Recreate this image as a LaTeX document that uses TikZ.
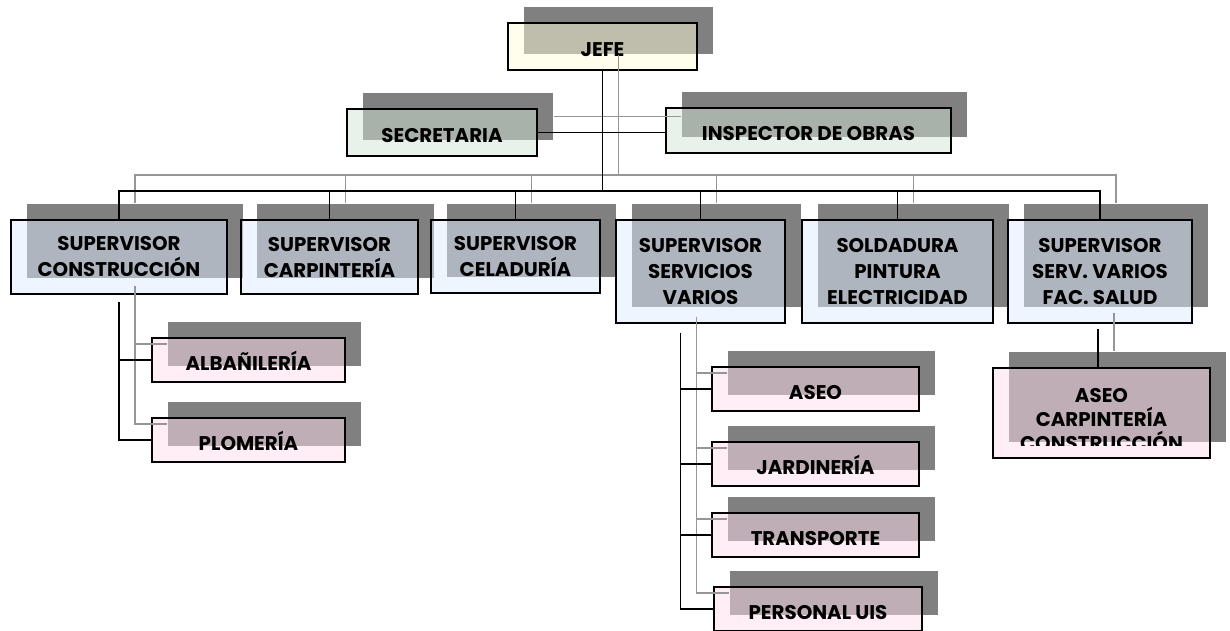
\documentclass[tikz,border=0pt]{standalone}
\usepackage{fontspec}
\setmainfont{Poppins}
\usetikzlibrary{calc}

\definecolor{shade}{RGB}{128,128,128}
\definecolor{wire}{RGB}{150,150,150}
\definecolor{creamfill}{RGB}{255,251,215}
\definecolor{greenfill}{RGB}{209,229,213}
\definecolor{bluefill}{RGB}{221,235,255}
\definecolor{pinkfill}{RGB}{255,221,235}

\tikzset{
  orgbox/.style={draw=black, line width=1.8pt, fill opacity=0.5, draw opacity=1,
    text opacity=1, inner sep=0pt, align=center,
    font=\fontsize{19.8}{26}\selectfont\bfseries,
    preaction={draw=none, fill=shade, fill opacity=1,
      transform canvas={xshift=16pt,yshift=16pt}}},
  oneline/.style={text height=20pt, text depth=0pt},
  topbox/.style={orgbox, oneline, fill=creamfill},
  staffbox/.style={orgbox, oneline, fill=greenfill},
  supbox/.style={orgbox, fill=bluefill},
  unitbox/.style={orgbox, fill=pinkfill},
  labeltext/.style={inner sep=0pt, align=center,
    font=\fontsize{19.8}{24}\selectfont\bfseries},
  blackwire/.style={color=black, line width=1.4pt},
  greywire/.style={color=wire, line width=1.4pt,
    transform canvas={xshift=16pt,yshift=16pt}}
}

% connector tree, drawn once as a grey shadow and once in black
\newcommand\orgwires{%
  \coordinate (bus) at (0,191);
  \draw (jefe.south) -- (jefe.south |- bus);
  \draw (sec.east) -- (sec.east -| insp.west);
  \draw (s1.north) -- (s1.north |- bus) -- (s6.north |- bus) -- (s6.north);
  \foreach \n in {s2,s3,s4,s5} \draw (\n.north) -- (\n.north |- bus);
  \coordinate (v1) at ($(s1.south)+(0,7)$);
  \draw (v1) |- (plo.west);
  \draw (v1 |- alb.west) -- (alb.west);
  \coordinate (v4) at ($(s4.south)+(-20,9)$);
  \draw (v4) |- (pers.west);
  \foreach \n in {aseo,jard,trans} \draw (v4 |- \n.west) -- (\n.west);
  \coordinate (v6) at ($(s6.south)+(-2,5)$);
  \draw (v6) -- (v6 |- acc.north);
}

\begin{document}
\begin{tikzpicture}[x=1pt,y=-1pt]
\useasboundingbox (0,0) rectangle (1230,630);

\node[topbox, minimum width=189pt, minimum height=47pt] (jefe) at (602.5,46.5) {JEFE};

\node[staffbox, minimum width=190pt, minimum height=47pt] (sec) at (442,132.5) {SECRETARIA};
\node[staffbox, minimum width=285pt, minimum height=45pt] (insp) at (808.5,130.5) {INSPECTOR DE OBRAS};

\node[supbox, minimum width=216pt, minimum height=74pt] (s1) at (119,257) {SUPERVISOR\\CONSTRUCCIÓN};
\node[supbox, minimum width=177pt, minimum height=74pt] (s2) at (329.5,257) {SUPERVISOR\\CARPINTERÍA};
\node[supbox, minimum width=169pt, minimum height=73pt] (s3) at (515.5,256.5) {SUPERVISOR\\CELADURÍA};
\node[supbox, minimum width=169pt, minimum height=103pt] (s4) at (700.5,271.5) {SUPERVISOR\\SERVICIOS\\VARIOS};
\node[supbox, minimum width=191pt, minimum height=103pt] (s5) at (897.5,271.5) {SOLDADURA\\PINTURA\\ELECTRICIDAD};
\node[supbox, minimum width=184pt, minimum height=103pt] (s6) at (1100,271.5) {SUPERVISOR\\SERV. VARIOS\\FAC. SALUD};

\node[unitbox, oneline, minimum width=193pt, minimum height=44pt] (alb) at (248.5,360) {ALBAÑILERÍA};
\node[unitbox, oneline, minimum width=193pt, minimum height=44pt] (plo) at (248.5,440) {PLOMERÍA};

\node[unitbox, oneline, minimum width=207pt, minimum height=44pt] (aseo) at (815.5,389) {ASEO};
\node[unitbox, oneline, minimum width=207pt, minimum height=44pt] (jard) at (815.5,464) {JARDINERÍA};
\node[unitbox, oneline, minimum width=207pt, minimum height=44pt] (trans) at (815.5,535) {TRANSPORTE};
\node[unitbox, oneline, minimum width=208pt, minimum height=44pt] (pers) at (818,609) {PERSONAL UIS};

\node[unitbox, minimum width=217pt, minimum height=90pt] (acc) at (1101.5,413) {};
\begin{scope}
  \clip ($(acc.north west)+(2,2)$) rectangle ($(acc.south east)+(-2,-13)$);
  \node[labeltext] (acclabel) at ($(acc.center)+(0,7)$) {ASEO\\CARPINTERÍA\\CONSTRUCCIÓN};
\end{scope}

\begin{scope}[greywire]
  \orgwires
\end{scope}
\begin{scope}[blackwire]
  \orgwires
\end{scope}
\end{tikzpicture}
\end{document}
